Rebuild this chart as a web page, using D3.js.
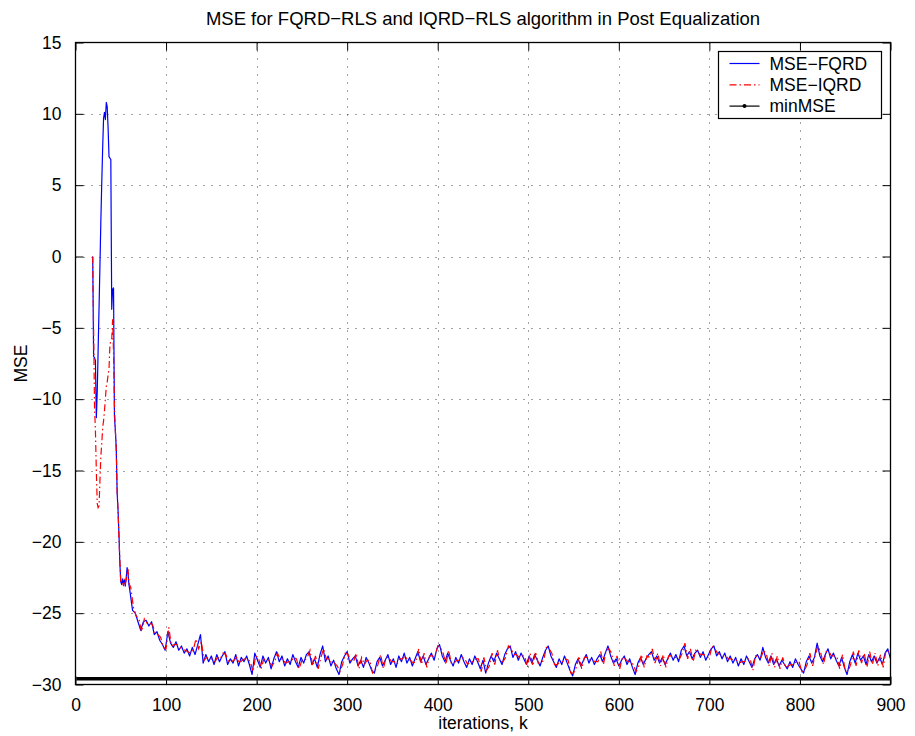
<!DOCTYPE html>
<html>
<head>
<meta charset="utf-8">
<script src="https://cdn.jsdelivr.net/npm/d3@7"></script>
<style>
  body { margin: 0; background: #fff; }
  svg { display: block; font-family: "Liberation Sans", Arial, Helvetica, sans-serif; }
</style>
</head>
<body>
<script>
// early transient, one point per iteration
const earlyK = d3.range(19, 60);
const earlyFQRD = [0, -7.0, -7.1, -7.3, -11.3, -9.5, -6.5, -3.6, -0.6, 2.5, 5.2, 7.6, 9.7, 10.1, 9.6, 10.8, 10.5, 9.0, 7.0, 6.9, 6.8,
  -3.7, -2.3, -2.2, -11.2, -12.2, -13.4, -16.6, -17.8, -19.5, -21.5, -22.8, -23.0, -22.6, -22.9, -22.7, -23.1, -22.5, -21.8, -22.2, -23.0];
const earlyIQRD = [0, -5.1, -10.5, -12.2, -15.0, -17.3, -17.6, -17.5, -15.7, -14.0, -13.1, -12.0, -11.5, -10.8, -10.0, -9.1, -8.8, -8.3, -7.9, -6.2, -5.9,
  -5.8, -4.4, -6.8, -10.5, -12.2, -13.6, -16.4, -17.9, -19.7, -21.3, -22.9, -22.7, -22.8, -23.1, -22.6, -22.9, -22.7, -22.2, -21.9, -22.9];

// steady part, every 3rd iteration (IQRD samples sit one iteration later)
const tailStartFQRD = 60;
const tailStartIQRD = 61;
const tailStep = 3;
const tailFQRD = [
  -23.4, -24.8, -25.0, -25.6, -26.2, -25.6, -25.5, -25.9, -25.6, -26.5, -26.3, -26.9, -27.2, -27.6, -26.3, -27.1, -27.4, -27.0, -27.6, -27.3,
  -27.8, -27.5, -28.0, -27.4, -27.9, -27.2, -26.5, -28.5, -27.9, -28.4, -28.0, -28.6, -27.9, -28.4, -28.0, -27.7, -28.6, -28.2, -28.5, -27.9,
  -28.7, -28.1, -28.4, -28.0, -28.6, -29.3, -27.8, -28.3, -28.8, -28.0, -28.5, -28.1, -28.9, -28.2, -27.7, -28.4, -28.0, -28.7, -28.2, -28.6,
  -27.9, -28.4, -28.8, -28.1, -28.5, -27.9, -27.7, -28.6, -28.2, -28.8, -27.9, -27.3, -28.4, -28.0, -28.7, -28.3, -28.9, -29.3, -28.4, -28.0,
  -27.7, -28.5, -28.2, -28.0, -28.7, -28.3, -28.8, -28.1, -28.5, -29.0, -29.2, -28.4, -28.1, -28.7, -28.3, -27.9, -28.6, -28.2, -28.8, -28.0,
  -28.4, -27.8, -28.5, -28.1, -28.7, -28.2, -27.7, -28.4, -28.0, -28.6, -28.2, -27.8, -28.3, -27.5, -27.2, -28.0, -28.4, -27.8, -28.3, -28.7,
  -28.1, -28.5, -27.9, -28.4, -28.8, -28.2, -28.6, -28.0, -28.4, -28.9, -28.3, -29.2, -28.5, -28.0, -28.4, -27.8, -28.2, -28.6, -27.9, -27.5,
  -27.3, -28.1, -27.7, -28.3, -27.8, -28.2, -28.6, -28.0, -28.5, -27.9, -28.3, -28.7, -28.1, -27.6, -27.3, -28.0, -28.4, -28.8, -28.2, -28.6,
  -28.0, -28.5, -29.0, -29.4, -28.6, -28.2, -28.7, -28.3, -27.9, -28.5, -28.1, -28.6, -28.2, -27.9, -28.4, -27.8, -27.3, -28.0, -28.5, -28.2,
  -28.7, -28.3, -28.0, -28.6, -28.2, -28.8, -29.3, -28.5, -28.1, -28.6, -28.2, -27.9, -27.7, -28.3, -28.0, -28.5, -28.1, -28.6, -28.2, -27.8,
  -28.3, -27.9, -28.4, -27.6, -27.3, -28.0, -27.7, -28.2, -27.8, -27.6, -28.1, -27.7, -28.3, -27.9, -27.5, -27.3, -28.0, -27.7, -28.2, -27.8,
  -28.4, -28.0, -28.5, -28.1, -28.7, -28.2, -28.6, -28.0, -28.4, -28.8, -28.2, -27.9, -28.3, -27.4, -28.1, -28.5, -28.0, -28.6, -28.2, -28.7,
  -28.3, -28.6, -28.9, -28.4, -28.8, -28.2, -28.6, -28.9, -29.2, -28.4, -28.0, -28.5, -28.1, -27.1, -28.0, -28.4, -27.9, -27.5, -28.2, -27.8,
  -28.3, -28.7, -28.1, -28.8, -29.3, -28.4, -27.9, -28.5, -27.8, -28.3, -28.0, -28.6, -27.9, -28.4, -28.0, -28.5, -28.1, -28.6, -27.8, -27.5,
  -28.2
];
const tailIQRD = [
  -23.2, -24.6, -25.2, -25.4, -26.3, -25.4, -25.7, -25.7, -25.8, -26.4, -26.5, -26.7, -27.4, -27.5, -26.0, -27.3, -27.2, -27.2, -27.4, -27.5,
  -27.6, -27.7, -27.8, -27.6, -26.8, -27.5, -27.0, -28.3, -28.1, -28.2, -28.2, -28.4, -28.1, -28.2, -27.8, -27.9, -28.4, -28.4, -28.3, -28.1,
  -28.5, -28.3, -28.2, -28.2, -28.4, -29.1, -28.0, -28.1, -28.9, -28.2, -28.3, -28.3, -28.7, -28.4, -27.8, -28.2, -28.2, -28.5, -28.4, -28.4,
  -28.1, -28.2, -28.9, -28.3, -28.3, -28.1, -27.6, -28.7, -28.0, -28.9, -28.1, -27.5, -28.2, -28.2, -28.5, -28.5, -28.7, -29.1, -28.6, -27.8,
  -27.9, -28.3, -28.4, -27.8, -28.9, -28.1, -28.6, -28.3, -28.3, -29.2, -29.0, -28.6, -27.9, -28.9, -28.1, -28.1, -28.4, -28.4, -28.6, -28.2,
  -28.2, -28.0, -28.3, -28.3, -28.5, -28.4, -27.5, -28.6, -27.8, -28.8, -28.0, -28.0, -28.1, -27.3, -27.4, -27.8, -28.6, -27.6, -28.5, -28.5,
  -28.3, -28.3, -28.1, -28.2, -28.6, -28.4, -28.4, -28.2, -28.2, -29.1, -28.1, -29.0, -28.7, -27.8, -28.6, -27.6, -28.4, -28.4, -28.1, -27.3,
  -27.5, -27.9, -27.9, -28.1, -28.0, -28.0, -28.8, -27.8, -28.7, -27.7, -28.5, -28.5, -28.3, -27.4, -27.5, -27.8, -28.6, -28.6, -28.4, -28.4,
  -28.2, -28.3, -29.2, -29.2, -28.8, -28.0, -28.9, -28.1, -28.1, -28.3, -28.3, -28.4, -28.4, -27.7, -28.6, -27.6, -27.5, -27.8, -28.7, -28.0,
  -28.9, -28.1, -28.2, -28.4, -28.4, -28.6, -29.1, -28.7, -27.9, -28.8, -28.0, -28.1, -27.5, -28.5, -27.8, -28.7, -27.9, -28.8, -28.0, -28.0,
  -28.1, -28.1, -28.2, -27.8, -27.1, -28.2, -27.5, -28.4, -27.6, -27.8, -27.9, -27.9, -28.1, -28.1, -27.3, -27.5, -27.8, -27.9, -28.0, -28.0,
  -28.2, -28.2, -28.3, -28.3, -28.5, -28.4, -28.4, -28.2, -28.2, -29.0, -28.0, -28.1, -28.1, -27.6, -27.9, -28.7, -27.8, -28.8, -28.0, -28.9,
  -28.1, -28.8, -28.7, -28.6, -28.6, -28.4, -28.4, -29.1, -29.0, -28.6, -27.8, -28.7, -27.9, -27.3, -27.8, -28.6, -27.7, -27.7, -28.0, -28.0,
  -28.1, -28.9, -27.9, -29.0, -29.1, -28.6, -27.7, -28.7, -27.6, -28.5, -27.8, -28.8, -27.7, -28.6, -27.8, -28.7, -27.9, -28.8, -27.6, -27.7
];

const minMSE = -29.6;
const minK = [1, 900];

const xTicks = d3.range(0, 901, 100);
const yTicks = d3.range(-30, 16, 5);

const titleText = 'MSE for FQRD\u2212RLS and IQRD\u2212RLS algorithm in Post Equalization';
const legendLabels = ['MSE\u2212FQRD', 'MSE\u2212IQRD', 'minMSE'];

// build series as {k, v}
const tailPoints = (vals, start) => vals.map((v, i) => ({ k: start + i * tailStep, v }));
const fqrd = earlyFQRD.map((v, i) => ({ k: earlyK[i], v })).concat(tailPoints(tailFQRD, tailStartFQRD));
const iqrd = earlyIQRD.map((v, i) => ({ k: earlyK[i], v })).concat(tailPoints(tailIQRD, tailStartIQRD));
const minLine = minK.map(k => ({ k, v: minMSE }));

const W = 915, H = 736;
const plot = { left: 75.5, right: 890.5, top: 42.5, bottom: 684.5 };

const svg = d3.select('body').append('svg')
  .attr('width', W)
  .attr('height', H);

const x = d3.scaleLinear().domain([0, 900]).range([plot.left, plot.right]);
const y = d3.scaleLinear().domain([-30, 15]).range([plot.bottom, plot.top]);

const fmt = (d) => (d < 0 ? '\u2212' + Math.abs(d) : String(d));

// grid
const grid = svg.append('g')
  .attr('stroke', '#444')
  .attr('stroke-width', 1)
  .attr('stroke-dasharray', '1,7');

grid.selectAll('.gx')
  .data(xTicks.slice(1, -1))
  .enter().append('line')
  .attr('x1', d => Math.round(x(d)) + 0.5)
  .attr('x2', d => Math.round(x(d)) + 0.5)
  .attr('y1', plot.top)
  .attr('y2', plot.bottom);

grid.selectAll('.gy')
  .data(yTicks.slice(1, -1))
  .enter().append('line')
  .attr('y1', d => Math.round(y(d)) + 0.5)
  .attr('y2', d => Math.round(y(d)) + 0.5)
  .attr('x1', plot.left)
  .attr('x2', plot.right);

// data lines
const line = d3.line()
  .x(d => x(d.k))
  .y(d => y(d.v));

svg.append('path')
  .datum(minLine)
  .attr('d', line)
  .attr('fill', 'none')
  .attr('stroke', '#000')
  .attr('stroke-width', 3.6);

svg.append('path')
  .datum(fqrd)
  .attr('d', line)
  .attr('fill', 'none')
  .attr('stroke', '#0000ff')
  .attr('stroke-width', 1.2)
  .attr('stroke-linejoin', 'round');

svg.append('path')
  .datum(iqrd)
  .attr('d', line)
  .attr('fill', 'none')
  .attr('stroke', '#ff0000')
  .attr('stroke-width', 1.2)
  .attr('stroke-dasharray', '7,3,1.5,3');

// axes: ticks inside on all four sides
const tickLen = 8;
const axisBottom = d3.axisBottom(x).tickValues(xTicks).tickSizeInner(-tickLen).tickSizeOuter(0).tickPadding(14).tickFormat(fmt);
const axisTop = d3.axisTop(x).tickValues(xTicks).tickSizeInner(-tickLen).tickSizeOuter(0).tickFormat('');
const axisLeft = d3.axisLeft(y).tickValues(yTicks).tickSizeInner(-tickLen).tickSizeOuter(0).tickPadding(14).tickFormat(fmt);
const axisRight = d3.axisRight(y).tickValues(yTicks).tickSizeInner(-tickLen).tickSizeOuter(0).tickFormat('');

const styleAxis = (g) => {
  g.select('.domain').remove();
  g.selectAll('line').attr('stroke', '#000').attr('stroke-width', 1);
  g.selectAll('text')
    .attr('fill', '#000')
    .style('font-size', '17.5px')
    .style('font-family', '"Liberation Sans", Arial, sans-serif');
};

svg.append('g').attr('transform', `translate(0,${plot.bottom})`).call(axisBottom).call(styleAxis);
svg.append('g').attr('transform', `translate(0,${plot.top})`).call(axisTop).call(styleAxis);
svg.append('g').attr('transform', `translate(${plot.left},0)`).call(axisLeft).call(styleAxis);
svg.append('g').attr('transform', `translate(${plot.right},0)`).call(axisRight).call(styleAxis);

// frame
svg.append('rect')
  .attr('x', plot.left)
  .attr('y', plot.top)
  .attr('width', plot.right - plot.left)
  .attr('height', plot.bottom - plot.top)
  .attr('fill', 'none')
  .attr('stroke', '#000')
  .attr('stroke-width', 1.3);

// title & labels
svg.append('text')
  .attr('x', (plot.left + plot.right) / 2)
  .attr('y', 25)
  .attr('text-anchor', 'middle')
  .style('font-size', '18.5px')
  .text(titleText);

svg.append('text')
  .attr('x', (plot.left + plot.right) / 2)
  .attr('y', 729)
  .attr('text-anchor', 'middle')
  .style('font-size', '17.5px')
  .text('iterations, k');

svg.append('text')
  .attr('transform', `translate(27,${(plot.top + plot.bottom) / 2}) rotate(-90)`)
  .attr('text-anchor', 'middle')
  .style('font-size', '17.5px')
  .text('MSE');

// legend
const legend = svg.append('g').attr('transform', 'translate(718.5,51.5)');
legend.append('rect')
  .attr('width', 163)
  .attr('height', 67)
  .attr('fill', '#fff')
  .attr('stroke', '#000')
  .attr('stroke-width', 1.2);

const legendStyles = [
  { stroke: '#0000ff', dash: null, dot: false },
  { stroke: '#ff0000', dash: '7,3,1.5,3', dot: false },
  { stroke: '#000', dash: null, dot: true }
];

const rows = legend.selectAll('.row')
  .data(legendLabels)
  .enter().append('g')
  .attr('transform', (d, i) => `translate(0,${12 + i * 21.3})`);

rows.append('line')
  .attr('x1', 11)
  .attr('x2', 41)
  .attr('stroke', (d, i) => legendStyles[i].stroke)
  .attr('stroke-width', 1.2)
  .attr('stroke-dasharray', (d, i) => legendStyles[i].dash);

rows.filter((d, i) => legendStyles[i].dot)
  .append('circle')
  .attr('cx', 26)
  .attr('r', 2)
  .attr('fill', '#000');

rows.append('text')
  .attr('x', 51)
  .attr('y', 6)
  .style('font-size', '17.5px')
  .text(d => d);
</script>
</body>
</html>
